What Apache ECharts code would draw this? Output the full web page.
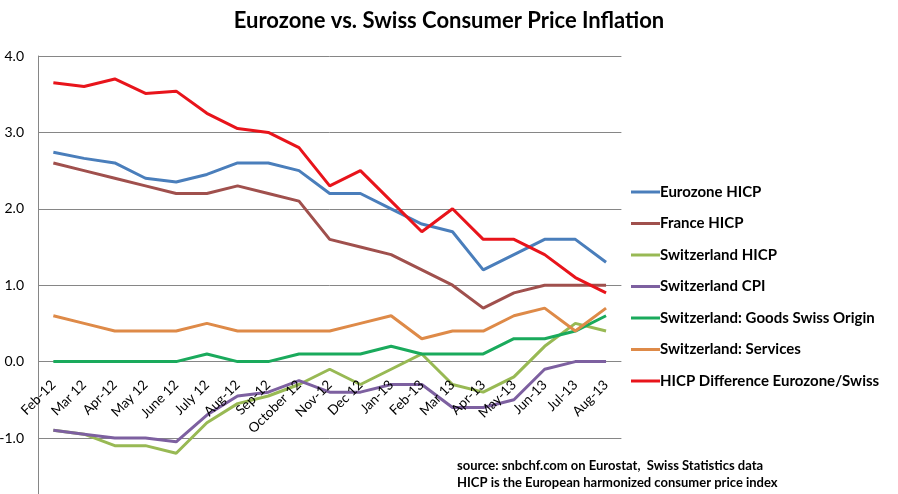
<!DOCTYPE html>
<html>
<head>
<meta charset="utf-8">
<script src="https://cdn.jsdelivr.net/npm/echarts@6/dist/echarts.min.js"></script>
<style>
html,body{margin:0;padding:0;background:#fff;}
#c{width:898px;height:494px;}
</style>
</head>
<body>
<div id="c"></div>
<script>
const categories = ["Feb-12","Mar 12","Apr-12","May 12","June 12","July 12","Aug-12","Sep-12","October 12","Nov-12","Dec 12","Jan-13","Feb-13","Mar 13","Apr-13","May-13","Jun-13","Jul-13","Aug-13"];
const eurozoneHICP   = [2.74, 2.66, 2.6, 2.4, 2.35, 2.45, 2.6, 2.6, 2.5, 2.2, 2.2, 2.0, 1.8, 1.7, 1.2, 1.4, 1.6, 1.6, 1.3];
const franceHICP     = [2.6, 2.5, 2.4, 2.3, 2.2, 2.2, 2.3, 2.2, 2.1, 1.6, 1.5, 1.4, 1.2, 1.0, 0.7, 0.9, 1.0, 1.0, 1.0];
const swissHICP      = [-0.9, -0.95, -1.1, -1.1, -1.2, -0.8, -0.55, -0.45, -0.3, -0.1, -0.3, -0.1, 0.1, -0.3, -0.4, -0.2, 0.2, 0.5, 0.4];
const swissCPI       = [-0.9, -0.95, -1.0, -1.0, -1.05, -0.7, -0.45, -0.4, -0.25, -0.4, -0.4, -0.3, -0.3, -0.6, -0.6, -0.5, -0.1, 0.0, 0.0];
const swissGoods     = [0.0, 0.0, 0.0, 0.0, 0.0, 0.1, 0.0, 0.0, 0.1, 0.1, 0.1, 0.2, 0.1, 0.1, 0.1, 0.3, 0.3, 0.4, 0.6];
const swissServices  = [0.6, 0.5, 0.4, 0.4, 0.4, 0.5, 0.4, 0.4, 0.4, 0.4, 0.5, 0.6, 0.3, 0.4, 0.4, 0.6, 0.7, 0.4, 0.7];
const hicpDifference = [3.65, 3.6, 3.7, 3.51, 3.54, 3.25, 3.05, 3.0, 2.8, 2.3, 2.5, 2.1, 1.7, 2.0, 1.6, 1.6, 1.4, 1.1, 0.9];
const seriesNames = ["Eurozone HICP","France HICP","Switzerland HICP","Switzerland CPI","Switzerland: Goods Swiss Origin","Switzerland: Services","HICP Difference Eurozone/Swiss"];
const seriesData = [eurozoneHICP, franceHICP, swissHICP, swissCPI, swissGoods, swissServices, hicpDifference];
const colors = ["#4A7EBB","#A0504D","#98B954","#7D60A0","#1AAA5C","#DE8A48","#E8141B"];

const gridLeft = 38, gridRight = 276.6;
const gridTop = 56, gridBottom = -20.4, H = 494;
const yMin = -2, yMax = 4;
const plotH = H - gridTop - gridBottom;
const zeroY = gridTop + plotH * (yMax - 0) / (yMax - yMin);
const labelAxisY = zeroY + 15;

const chart = echarts.init(document.getElementById('c'), null, {renderer:'canvas'});
chart.setOption({
  animation: false,
  backgroundColor: '#fff',
  color: colors,
  title: [{
    text: 'Eurozone vs. Swiss Consumer Price Inflation',
    left: 'center', top: 5,
    textStyle: {fontFamily: 'Lato', fontWeight: 'bold', fontSize: 22, color: '#000'}
  }, {
    text: 'source: snbchf.com on Eurostat,  Swiss Statistics data\nHICP is the European harmonized consumer price index',
    left: 452, top: 452,
    textStyle: {fontFamily: 'Lato', fontWeight: 'bold', fontSize: 13, lineHeight: 17, color: '#000'}
  }],
  legend: {
    orient: 'vertical',
    left: 626, top: 178,
    icon: 'rect',
    itemWidth: 29, itemHeight: 3, itemGap: 13.5,
    textStyle: {fontFamily: 'Lato', fontWeight: 'bold', fontSize: 15, lineHeight: 18, color: '#000', padding: [0,0,0,-5]},
    data: seriesNames
  },
  grid: [
    {left: gridLeft, right: gridRight, top: gridTop, bottom: gridBottom, outerBoundsMode: 'none', containLabel: false},
    {left: gridLeft, right: gridRight, top: 0, bottom: H - labelAxisY, outerBoundsMode: 'none', containLabel: false}
  ],
  xAxis: [{
    gridIndex: 0,
    type: 'category',
    data: categories,
    boundaryGap: true,
    axisLine: {show: false, onZero: false},
    axisTick: {show: false},
    axisLabel: {show: false}
  }, {
    gridIndex: 1,
    type: 'category',
    data: categories,
    boundaryGap: true,
    z: 10,
    axisLine: {show: false, onZero: false},
    axisTick: {show: false},
    splitLine: {show: false},
    axisLabel: {show: true, rotate: 45, interval: 0, hideOverlap: false, fontFamily: 'Lato', fontSize: 13.5, color: '#000', margin: 6}
  }],
  yAxis: [{
    gridIndex: 0,
    type: 'value',
    min: yMin, max: yMax, interval: 1,
    axisLine: {show: true, lineStyle: {color: '#868686', width: 1}},
    axisTick: {show: false},
    splitLine: {lineStyle: {color: '#868686', width: 1}},
    axisLabel: {formatter: v => v.toFixed(1), fontFamily: 'Lato', fontSize: 14, color: '#000', margin: 14}
  }, {
    gridIndex: 1,
    type: 'value',
    min: 0, max: 1,
    show: false,
    splitLine: {show: false}
  }],
  series: seriesNames.map((n, i) => ({
    name: n, type: 'line', data: seriesData[i], xAxisIndex: 0, yAxisIndex: 0, z: 2,
    showSymbol: false, symbol: 'none', smooth: false,
    lineStyle: {width: 3, color: colors[i]},
    itemStyle: {color: colors[i]}
  }))
});
</script>
</body>
</html>
